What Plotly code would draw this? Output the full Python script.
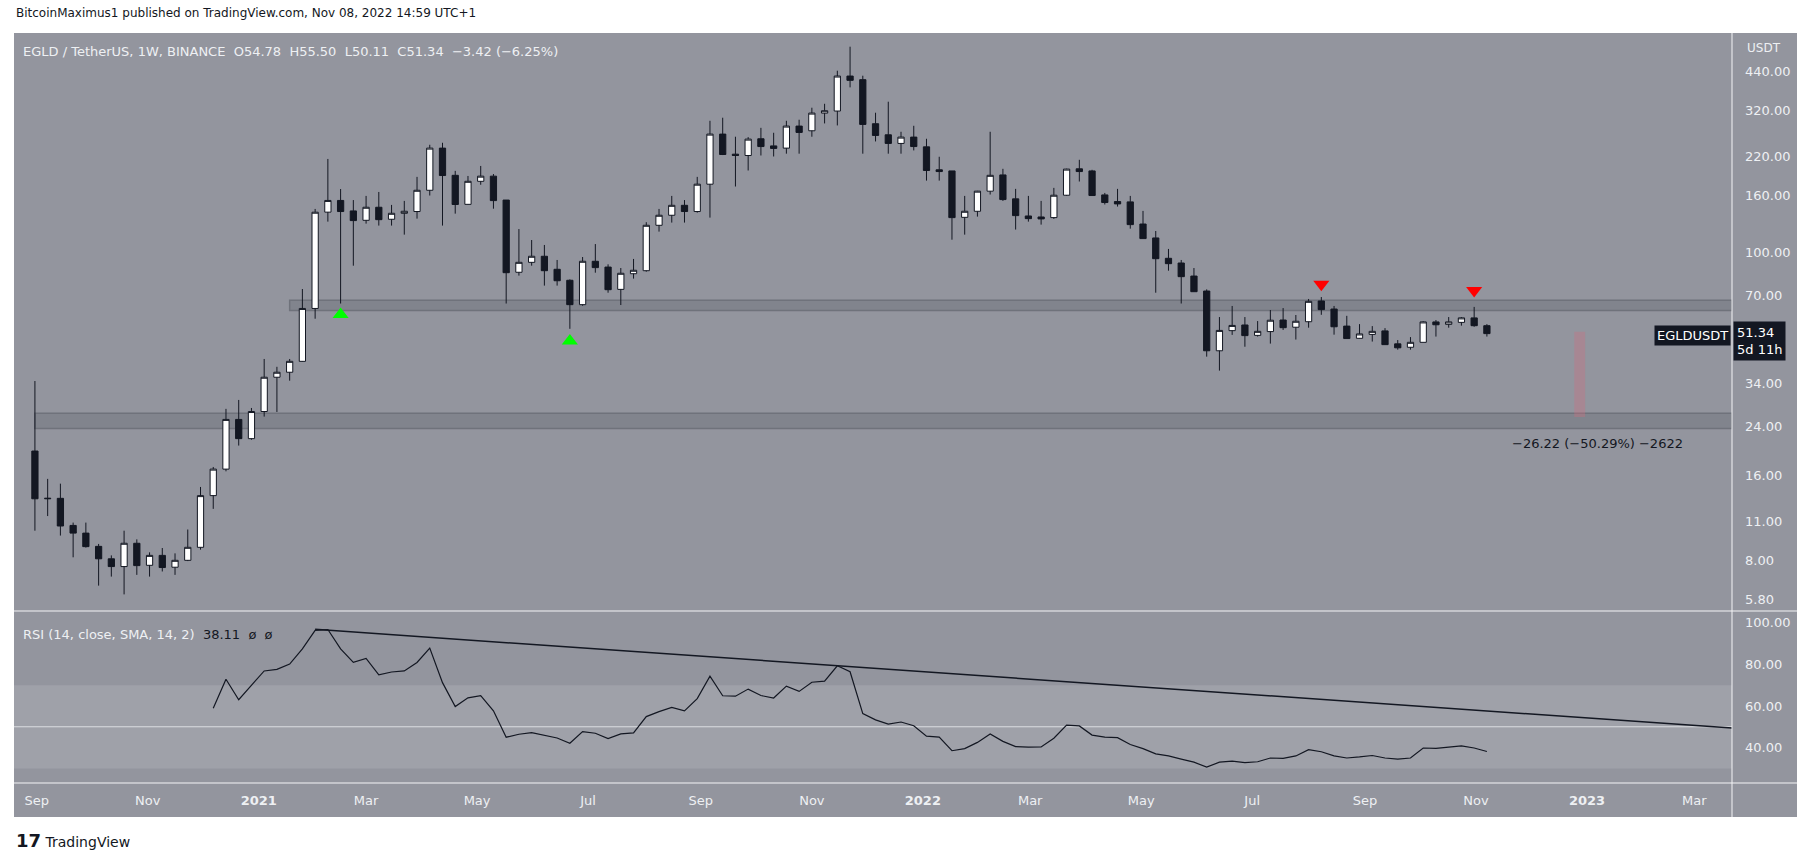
import pandas as pd
import plotly.graph_objects as go

W, H = 1814, 861

# weekly candles EGLD/USDT (Binance), week starting 2020-08-31
dates = pd.date_range("2020-08-31", periods=115, freq="7D")

opens = [19.6, 13.25, 13.3, 10.65, 10.0, 8.97, 8.1, 7.6, 9.2, 7.68, 8.33, 7.56, 8.0, 8.9, 13.6, 16.9,
         25.4, 21.7, 27.1, 35.9, 37.4, 40.9, 63.1, 139, 153, 140.4, 130, 144.7, 131.1, 137.7, 139.7, 166.3,
         235, 188, 148.2, 179, 186.7, 153.5, 84.9, 92.1, 96.8, 87.0, 79.5, 65.1, 92.9, 88.6, 73.8, 83.9,
         86.0, 124.8, 135.5, 147, 139.7, 174.8, 263.6, 223.6, 221.2, 253.7, 239.3, 235, 281.5, 270.9, 313.2, 318.5,
         424.3, 411.9, 287, 262.1, 244.2, 257.2, 237.4, 196.7, 194.9, 133.2, 140, 165.1, 188.6, 155, 134.7, 133.6,
         132.9, 159.7, 198.3, 194.9, 160.1, 151.6, 151.2, 126.1, 112.5, 95.2, 91.6, 82.3, 72.8, 44.6, 52.6, 55.1,
         50.6, 52.2, 57.4, 54.1, 56.6, 67.1, 62.8, 54.6, 49.4, 51.0, 52.5, 47.2, 45.9, 47.8, 56.5, 55.4,
         56.3, 58.4, 54.78]
highs = [34.8, 15.6, 15.0, 10.9, 10.9, 9.15, 8.33, 10.2, 9.5, 8.54, 8.85, 8.47, 10.3, 14.6, 17.2, 27.7,
         29.8, 27.9, 41.7, 39.1, 41.7, 74.0, 142.7, 215, 168, 153.5, 158.8, 164, 147.5, 152.4, 185.6, 241.5,
         245.5, 195, 187, 203, 190, 153.5, 121, 110.6, 106.2, 93.9, 80.1, 96.2, 107, 90.6, 87.9, 94.7,
         128, 142.7, 158.8, 153.5, 185.6, 294, 301.5, 258, 257.2, 277.5, 266.5, 294, 296.6, 327.3, 338, 443.3,
         539.8, 425.5, 314.1, 343.8, 268.7, 282.2, 253.7, 218.9, 194.9, 158.8, 165.5, 268.7, 198.3, 168.2, 158.8, 152.4,
         169.6, 198.5, 213.5, 196.7, 162.7, 168.2, 158.8, 140.4, 119.1, 102.8, 93.9, 87.9, 73.8, 58.8, 64.4, 58.8,
         56.9, 62.3, 63.3, 59.8, 68.2, 69.3, 64.4, 59.4, 55.5, 54.6, 53.7, 48.7, 49.9, 56.8, 57.4, 58.8,
         58.8, 63.9, 55.50]
lows = [10.2, 11.5, 9.8, 8.2, 8.88, 6.5, 7.0, 6.05, 7.1, 7.0, 7.3, 7.1, 7.95, 8.73, 12.2, 16.6,
        20.5, 21.5, 26.0, 27.0, 34.9, 40.8, 58.0, 128.6, 65.7, 89.6, 126.5, 124.5, 124.5, 115.6, 131.8, 159.3,
        124.5, 137.3, 148, 174, 143, 65.7, 82.6, 89.6, 76.1, 76.1, 53.4, 64.5, 84.6, 71.8, 64.9, 80.6,
        85.3, 118.5, 127.6, 127.6, 138.4, 132.9, 222, 171.5, 195.6, 221.2, 219.4, 224.5, 224.5, 258, 287.7, 283,
        386.7, 224.5, 248.2, 224.5, 224.5, 230.6, 180, 180, 110.9, 115.6, 134, 160.6, 152.4, 120.5, 128.6, 125.5,
        131.5, 159, 178.7, 159.3, 148, 145.5, 121.4, 111.9, 71.8, 86.0, 65.7, 72.4, 42.5, 37.9, 50.8, 46.1,
        50.1, 47.3, 52.9, 48.9, 53.9, 59.9, 50.9, 49.3, 49.3, 48.1, 46.9, 45.0, 45.0, 47.8, 50.1, 53.9,
        54.8, 54.3, 50.11]
closes = [13.25, 13.3, 10.6, 10.0, 8.95, 8.1, 7.6, 9.2, 7.66, 8.33, 7.54, 8.0, 8.9, 13.6, 16.9, 25.4,
          21.7, 27.1, 35.9, 37.4, 40.9, 63.1, 138.9, 153, 139.7, 129.7, 144.7, 130.7, 137.7, 140, 166.3, 235,
          187.7, 148, 179, 186.7, 152.8, 84.6, 92.1, 96.8, 86.0, 79.2, 65.1, 92.9, 88.2, 73.6, 84.2, 86.3,
          124.8, 135.5, 147, 139.7, 174.8, 263.6, 223, 221.2, 253, 238, 234.4, 281.5, 267.2, 313.2, 319.3, 424.3,
          409.6, 285.4, 260.7, 244.2, 257.2, 238, 195.6, 193.9, 132.9, 140, 165.1, 188, 154.1, 135.1, 131.8, 131.5,
          159.7, 197.8, 193.9, 159.3, 150.4, 148.7, 125.5, 111.9, 94.9, 91.1, 81.9, 72.4, 44.6, 52.7, 54.9, 50.5,
          52.3, 57.3, 53.9, 56.8, 66.9, 62.5, 54.3, 49.3, 51.2, 52.3, 46.9, 45.7, 47.8, 56.5, 55.2, 56.5,
          58.4, 54.78, 51.34]

# RSI(14) starts on the 15th weekly bar
rsi_start = 14
rsi = [58.9, 72.8, 63.0, 69.8, 76.8, 77.6, 80.1, 87.4, 96.3, 96.7, 87.4, 80.9, 82.8, 74.9, 76.3, 76.8,
       80.9, 87.8, 71.2, 59.7, 63.9, 65.0, 57.7, 45.0, 46.4, 47.2, 45.8, 44.6, 42.1, 47.7, 46.9, 44.3,
       46.6, 47.1, 54.9, 57.3, 59.3, 57.6, 63.5, 74.3, 64.9, 64.7, 68.1, 65.0, 63.8, 69.5, 67.0, 71.4,
       71.9, 79.3, 76.4, 56.3, 53.3, 51.3, 52.3, 50.5, 45.5, 45.0, 38.5, 39.5, 42.5, 46.5, 43.0, 40.5,
       40.2, 40.3, 44.5, 50.8, 50.4, 46.0, 45.0, 44.8, 41.5, 39.5, 37.0, 36.0, 34.5, 33.0, 30.6, 33.0,
       33.5, 32.8, 33.2, 35.0, 34.8, 36.0, 39.0, 38.0, 36.0, 35.0, 35.5, 36.2, 35.0, 34.5, 35.0, 39.8,
       39.6, 40.2, 40.8, 39.8, 38.11]

# drawings
green_dates = ["2021-02-15", "2021-06-21"]
green_prices = [60.1, 48.3]
red_dates = ["2022-08-08", "2022-10-31"]
red_prices = [76.9, 73.1]
upper_band = ("2021-01-18", 62.1, 67.5)
lower_band = ("2020-08-31", 23.6, 26.7)
measure = ("2022-12-25", "2022-12-31", 25.91, 52.13)
trend_dates = ["2021-02-01", "2023-03-21 17:00"]
trend_vals = [96.8, 49.4]

price_ticks = [440, 320, 220, 160, 100, 70, 34, 24, 16, 11, 8, 5.8]
rsi_ticks = [100, 80, 60, 40]
month_ticks = ["2020-09-01", "2020-11-01", "2021-01-01", "2021-03-01", "2021-05-01", "2021-07-01",
               "2021-09-01", "2021-11-01", "2022-01-01", "2022-03-01", "2022-05-01", "2022-07-01",
               "2022-09-01", "2022-11-01", "2023-01-01", "2023-03-01"]
month_labels = ["Sep", "Nov", "<b>2021</b>", "Mar", "May", "Jul", "Sep", "Nov", "<b>2022</b>",
                "Mar", "May", "Jul", "Sep", "Nov", "<b>2023</b>", "Mar"]

BG = "#93959e"
DARK = "#131722"
LIGHT = "#eef0f3"
FONT = "DejaVu Sans"
x_range = ["2020-08-19 12:00", "2023-03-21 17:00"]


# screen pixel -> paper fraction
def px(x):
    return x / W


def py(y):
    return 1 - y / H


fig = go.Figure()

fig.add_trace(go.Candlestick(
    x=dates, open=opens, high=highs, low=lows, close=closes,
    increasing=dict(line=dict(color=DARK, width=1), fillcolor="#ffffff"),
    decreasing=dict(line=dict(color=DARK, width=1), fillcolor=DARK),
    whiskerwidth=0, xaxis="x", yaxis="y", hoverinfo="skip"))

fig.add_trace(go.Scatter(x=green_dates, y=green_prices, mode="markers", xaxis="x", yaxis="y",
                         marker=dict(symbol="triangle-up", size=14, color="#00ff00")))
fig.add_trace(go.Scatter(x=red_dates, y=red_prices, mode="markers", xaxis="x", yaxis="y",
                         marker=dict(symbol="triangle-down", size=14, color="#ff0000")))

fig.add_trace(go.Scatter(x=dates[rsi_start:], y=rsi, mode="lines", xaxis="x", yaxis="y2",
                         line=dict(color=DARK, width=1.2)))
fig.add_trace(go.Scatter(x=trend_dates, y=trend_vals, mode="lines", xaxis="x", yaxis="y2",
                         line=dict(color=DARK, width=1.5)))

shapes = [
    # panel background
    dict(type="rect", xref="paper", yref="paper", x0=px(14), x1=px(1797), y0=py(817), y1=py(33),
         fillcolor=BG, line=dict(width=0), layer="below"),
    # RSI 30-70 band
    dict(type="rect", xref="paper", yref="y2", x0=px(14), x1=px(1732), y0=30, y1=70,
         fillcolor="#9fa1a9", line=dict(width=0), layer="below"),
    dict(type="line", xref="paper", yref="y2", x0=px(14), x1=px(1732), y0=50, y1=50,
         line=dict(color="#dcdde2", width=1), layer="below"),
    # support / resistance zones
    dict(type="rect", xref="x", yref="y", x0=upper_band[0], x1=x_range[1],
         y0=upper_band[1], y1=upper_band[2], fillcolor="#81848d",
         line=dict(color="#6f727b", width=1.5), layer="below"),
    dict(type="rect", xref="x", yref="y", x0=lower_band[0], x1=x_range[1],
         y0=lower_band[1], y1=lower_band[2], fillcolor="#81848d",
         line=dict(color="#6f727b", width=1.5), layer="below"),
    # measurement
    dict(type="rect", xref="x", yref="y", x0=measure[0], x1=measure[1], y0=measure[2], y1=measure[3],
         fillcolor="rgba(205,110,125,0.35)", line=dict(width=0)),
    # separators
    dict(type="line", xref="paper", yref="paper", x0=px(1732), x1=px(1732), y0=py(817), y1=py(33),
         line=dict(color="#f4f4f6", width=1)),
    dict(type="line", xref="paper", yref="paper", x0=px(14), x1=px(1797), y0=py(611), y1=py(611),
         line=dict(color="#f4f4f6", width=1)),
    dict(type="line", xref="paper", yref="paper", x0=px(14), x1=px(1797), y0=py(783), y1=py(783),
         line=dict(color="#f4f4f6", width=1)),
]

annotations = [
    dict(x=px(14), y=py(13), text="BitcoinMaximus1 published on TradingView.com, Nov 08, 2022 14:59 UTC+1",
         font=dict(size=12, color=DARK)),
    dict(x=px(21), y=py(52),
         text="EGLD / TetherUS, 1W, BINANCE  O54.78  H55.50  L50.11  C51.34  \u22123.42 (\u22126.25%)",
         font=dict(size=13, color=LIGHT)),
    dict(x=px(21), y=py(634),
         text="RSI (14, close, SMA, 14, 2)  <span style='color:#131722'>38.11  \u00f8  \u00f8</span>",
         font=dict(size=13, color=LIGHT)),
    dict(x=px(1745), y=py(48), text="USDT", font=dict(size=12, color=LIGHT)),
    dict(x=px(1731), y=py(335), xanchor="right", text="EGLDUSDT", bgcolor=DARK,
         font=dict(size=13, color="#ffffff"), borderpad=2),
    dict(x=px(1733), y=py(341), text="51.34<br>5d 11h", bgcolor=DARK, align="left",
         font=dict(size=13, color="#ffffff"), borderpad=3),
    dict(x=px(1597), y=py(443), xanchor="center",
         text="\u221226.22 (\u221250.29%) \u22122622", font=dict(size=13, color=DARK)),
    dict(x=px(14), y=py(840),
         text="<b style='font-size:18px'>17</b> TradingView", font=dict(size=14, color=DARK)),
]
for a in annotations:
    a.setdefault("xref", "paper")
    a.setdefault("yref", "paper")
    a.setdefault("xanchor", "left")
    a.setdefault("yanchor", "middle")
    a["showarrow"] = False

fig.update_layout(
    width=W, height=H,
    margin=dict(l=0, r=0, t=0, b=0),
    paper_bgcolor="#ffffff",
    plot_bgcolor="rgba(0,0,0,0)",
    font=dict(family=FONT, color=LIGHT),
    showlegend=False,
    hovermode=False,
    shapes=shapes,
    annotations=annotations,
    xaxis=dict(domain=[px(14), px(1732)], anchor="y2", type="date", range=x_range,
               tickvals=month_ticks, ticktext=month_labels, showgrid=False, zeroline=False,
               ticks="", ticklabelstandoff=8, tickfont=dict(size=13, color=LIGHT),
               rangeslider=dict(visible=False), showline=False),
    yaxis=dict(domain=[py(611), py(33)], anchor="x", type="log", side="right",
               range=[0.7226, 2.781], tickvals=price_ticks,
               ticktext=[f"{v:.2f}" for v in price_ticks], showgrid=False, zeroline=False,
               ticks="", ticklabelstandoff=12, tickfont=dict(size=13, color=LIGHT)),
    yaxis2=dict(domain=[py(783), py(611)], anchor="x", side="right", range=[23, 105.6],
                tickvals=rsi_ticks, ticktext=[f"{v:.2f}" for v in rsi_ticks],
                showgrid=False, zeroline=False, ticks="", ticklabelstandoff=12,
                tickfont=dict(size=13, color=LIGHT)),
)

# drop the page's default body margin so the figure sits at the window's corner
fig.write_html("out.html", config={"displayModeBar": False},
               post_script="document.body.style.margin='0';")
